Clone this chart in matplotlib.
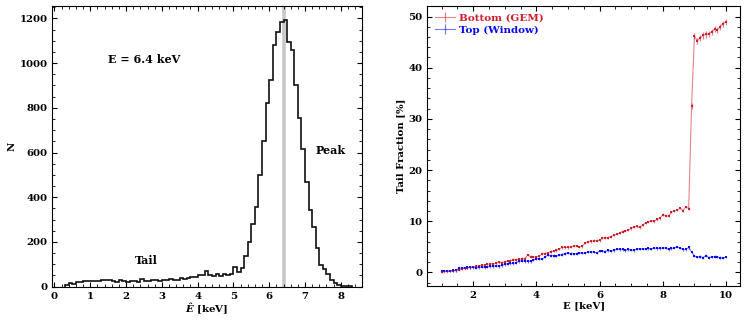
import numpy as np
import matplotlib
matplotlib.use("Agg")
import matplotlib.pyplot as plt
from matplotlib.ticker import AutoMinorLocator, MultipleLocator

plt.rcParams.update({
    "font.family": "serif",
    "font.serif": ["DejaVu Serif"],
    "font.weight": "bold",
    "axes.labelweight": "bold",
    "mathtext.fontset": "dejavuserif",
    "xtick.direction": "in",
    "ytick.direction": "in",
    "xtick.top": True,
    "ytick.right": True,
    "xtick.minor.visible": True,
    "ytick.minor.visible": True,
    "xtick.labelsize": 7.3,
    "ytick.labelsize": 7.3,
    "axes.labelsize": 7.3,
    "xtick.major.size": 3.5,
    "ytick.major.size": 3.5,
    "xtick.minor.size": 2,
    "ytick.minor.size": 2,
    "axes.linewidth": 0.8,
})

# ---------------- Left panel: histogram of reconstructed energy ----------------
hist_edges = np.round(np.arange(0.3, 8.31, 0.1), 2)
hist_counts = [
    8, 15, 12, 20, 22, 25, 27, 24, 25, 27,          # 0.3 - 1.2
    28, 29, 28, 27, 23, 28, 26, 20, 26, 24,         # 1.3 - 2.2
    22, 33, 26, 25, 30, 31, 27, 28, 30, 34,         # 2.3 - 3.2
    31, 29, 38, 36, 40, 45, 43, 52, 52, 68,         # 3.3 - 4.2
    52, 48, 56, 48, 58, 52, 55, 88, 65, 85,         # 4.3 - 5.2
    137, 199, 281, 357, 500, 650, 822, 924, 1080, 1140,  # 5.3 - 6.2
    1184, 1193, 1096, 1058, 904, 755, 617, 466, 344, 265,  # 6.3 - 7.2
    175, 97, 78, 57, 30, 15, 7, 4, 2, 1,            # 7.3 - 8.2
]
line_energy = 6.4

# ---------------- Right panel: tail fraction vs energy ----------------
energy = np.linspace(1.0, 10.0, 100)
bottom_gem = [
    0.1, 0.2, 0.2, 0.3, 0.3, 0.4, 0.5, 0.7, 0.8, 0.9, 1.0,
    1.1, 1.2, 1.3, 1.4, 1.5, 1.6, 1.7, 1.7, 1.8, 2.0,
    1.9, 2.1, 2.2, 2.3, 2.5, 2.5, 2.6, 2.7, 2.7, 3.4,
    3.1, 3.0, 3.0, 3.2, 3.7, 3.7, 3.8, 4.1, 4.2, 4.3,
    4.6, 4.9, 4.9, 4.9, 5.0, 5.2, 5.2, 5.0, 5.1, 5.8,
    6.0, 6.1, 6.2, 6.2, 6.3, 6.7, 6.8, 6.8, 7.0, 7.3,
    7.5, 7.7, 8.0, 8.1, 8.3, 8.6, 8.9, 9.0, 8.8, 9.3,
    9.7, 9.9, 10.1, 10.0, 10.4, 10.6, 11.3, 11.1, 11.0, 11.8,
    12.0, 12.2, 12.6, 12.1, 12.8, 12.5,
    32.5, 46.2,
    45.3, 45.8, 46.3, 46.5, 46.6, 47.0, 47.5, 47.4, 48.0, 48.6, 49.0,
]
top_window = [
    0.3, 0.3, 0.3, 0.3, 0.4, 0.4, 0.8, 0.9, 0.9, 1.0, 1.0,
    1.0, 0.9, 1.0, 1.1, 1.0, 1.1, 1.2, 1.2, 1.3, 1.2,
    1.4, 1.6, 1.7, 1.8, 1.8, 1.9, 2.2, 2.3, 2.2, 2.2,
    2.2, 2.4, 2.7, 2.7, 2.6, 3.0, 3.4, 3.3, 3.3, 3.2,
    3.4, 3.5, 3.7, 3.8, 3.7, 3.6, 3.7, 3.8, 3.8, 3.8,
    4.0, 4.0, 4.0, 3.8, 4.2, 4.2, 4.1, 4.3, 4.2, 4.3,
    4.6, 4.5, 4.5, 4.3, 4.5, 4.4, 4.3, 4.6, 4.6, 4.6,
    4.6, 4.7, 4.6, 4.8, 4.7, 4.7, 4.8, 4.8, 4.5, 4.7,
    4.8, 5.0, 4.8, 4.5, 4.5, 4.9,
    4.0, 3.2, 3.0, 3.1, 2.9, 3.3, 2.9, 3.0, 3.1, 3.0, 2.9, 2.8, 3.0,
]
bottom_err = [0.25] * 87 + [0.6] * 13
top_err = [0.25] * 100

RED = "#cc1f2c"
BLUE = "#0a0af0"

fig = plt.figure(figsize=(7.47, 3.25), dpi=100)
ax1 = fig.add_axes([0.070, 0.118, 0.414, 0.864])
ax2 = fig.add_axes([0.572, 0.120, 0.419, 0.862])

# left panel
ax1.axvline(line_energy, color="#c8c8c8", lw=2.6, zorder=1)
ax1.stairs(hist_counts, hist_edges, color="#111111", lw=1.2, baseline=0, zorder=2)
ax1.set_xlim(-0.06, 8.58)
ax1.set_ylim(0, 1256)
ax1.xaxis.set_major_locator(MultipleLocator(1))
ax1.xaxis.set_minor_locator(AutoMinorLocator(5))
ax1.yaxis.set_major_locator(MultipleLocator(200))
ax1.yaxis.set_minor_locator(AutoMinorLocator(4))
ax1.set_xlabel(r"$\mathbfit{\hat{E}}$ [keV]", labelpad=1)
ax1.set_ylabel("N", labelpad=2)
ax1.text(1.5, 1015, "E = 6.4 keV", fontsize=8, fontweight="bold", va="center", ha="left")
ax1.text(7.3, 610, "Peak", fontsize=8, fontweight="bold", va="center", ha="left")
ax1.text(2.25, 115, "Tail", fontsize=8, fontweight="bold", va="center", ha="left")

# right panel
for y, err, c, lab in [(bottom_gem, bottom_err, RED, "Bottom (GEM)"),
                       (top_window, top_err, BLUE, "Top (Window)")]:
    ax2.errorbar(energy, y, yerr=err, fmt="-", color=c, lw=0.8, alpha=0.55,
                 elinewidth=0.9, label=lab)
    ax2.plot(energy, y, "s", color=c, ms=1.7, mew=0)
ax2.xaxis.set_major_locator(MultipleLocator(2))
ax2.xaxis.set_minor_locator(AutoMinorLocator(4))
ax2.yaxis.set_major_locator(MultipleLocator(10))
ax2.yaxis.set_minor_locator(AutoMinorLocator(5))
ax2.set_xlabel("E [keV]", labelpad=1)
ax2.set_ylabel("Tail Fraction [%]", labelpad=2)
leg = ax2.legend(loc="upper left", frameon=False, fontsize=7.5, handlelength=2.0,
                 handletextpad=0.3, borderaxespad=0.3, labelspacing=0.3)
for t, c in zip(leg.get_texts(), [RED, BLUE]):
    t.set_color(c)

fig.savefig("out.png", dpi=100)
